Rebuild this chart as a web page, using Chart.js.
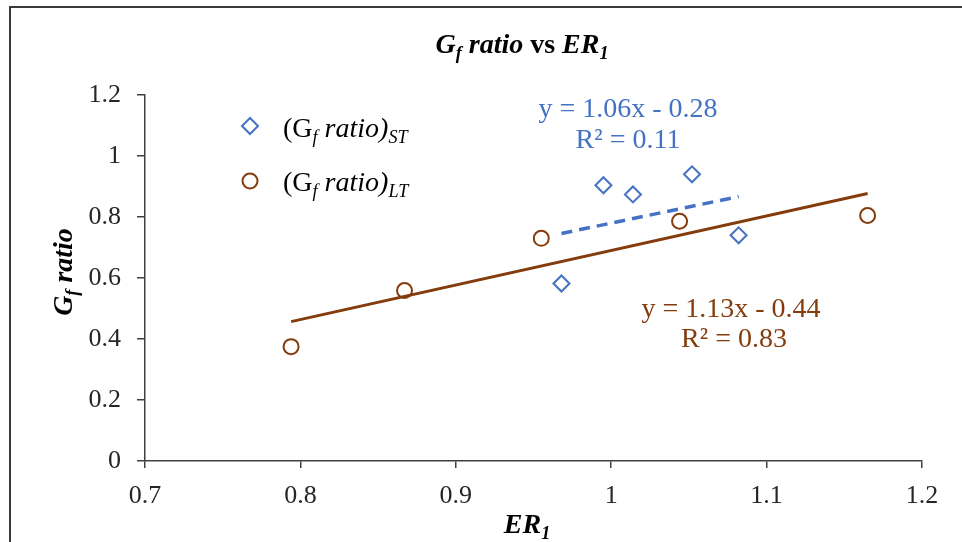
<!DOCTYPE html>
<html>
<head>
<meta charset="utf-8">
<title>Gf ratio vs ER1</title>
<script src="https://cdn.jsdelivr.net/npm/chart.js@4/dist/chart.umd.min.js"></script>
<style>
  html, body { margin: 0; padding: 0; background: #fff; }
  #wrap { width: 962px; height: 542px; position: relative; }
</style>
</head>
<body>
<div id="wrap"><canvas id="chart" width="962" height="542"></canvas></div>
<script>
'use strict';

// ─── Data ────────────────────────────────────────────────────────────────────
const stX = [0.968, 0.995, 1.014, 1.052, 1.082];
const stY = [0.582, 0.904, 0.874, 0.940, 0.740];
const ltX = [0.794, 0.867, 0.955, 1.044, 1.165];
const ltY = [0.375, 0.559, 0.730, 0.786, 0.805];

// trendline end points
const stTrendX = [0.968, 1.082];
const stTrendY = [0.746, 0.867];
const ltTrendX = [0.794, 1.165];
const ltTrendY = [0.457, 0.877];

const xTicks = [0.7, 0.8, 0.9, 1, 1.1, 1.2];
const yTicks = [0, 0.2, 0.4, 0.6, 0.8, 1, 1.2];

const BLUE = '#4472C4';
const BROWN = '#843C0C';
const AXIS = '#404040';
const SERIF = "'Liberation Serif', 'Times New Roman', serif";

const toPoints = (xs, ys) => xs.map((x, i) => ({ x, y: ys[i] }));

// ─── Rich text helper (subscripts) ───────────────────────────────────────────
// parts: [{ t, style, sub }]
function richWidth(ctx, parts, size) {
  let w = 0;
  parts.forEach(p => {
    ctx.font = `${p.style || ''} ${p.sub ? size * 0.65 : size}px ${SERIF}`;
    w += ctx.measureText(p.t).width;
  });
  return w;
}

function drawRich(ctx, parts, x, y, size, align, color) {
  ctx.save();
  ctx.fillStyle = color;
  ctx.textBaseline = 'alphabetic';
  ctx.textAlign = 'left';
  let cx = x;
  if (align === 'center') cx -= richWidth(ctx, parts, size) / 2;
  parts.forEach(p => {
    const s = p.sub ? size * 0.65 : size;
    ctx.font = `${p.style || ''} ${s}px ${SERIF}`;
    ctx.fillText(p.t, cx, p.sub ? y + size * 0.22 : y);
    cx += ctx.measureText(p.t).width;
  });
  ctx.restore();
}

function centerText(ctx, text, x, y, size, color) {
  ctx.save();
  ctx.font = `${size}px ${SERIF}`;
  ctx.fillStyle = color;
  ctx.textAlign = 'center';
  ctx.textBaseline = 'alphabetic';
  ctx.fillText(text, x, y);
  ctx.restore();
}

// ─── Annotations plugin: frame, title, axis titles, legend, equations ────────
const annotations = {
  id: 'annotations',
  afterDraw(chart) {
    const ctx = chart.ctx;

    // outer frame (runs off the right and bottom edges)
    ctx.save();
    ctx.strokeStyle = '#3a3a3a';
    ctx.lineWidth = 2;
    ctx.beginPath();
    ctx.moveTo(10, 560);
    ctx.lineTo(10, 7);
    ctx.lineTo(980, 7);
    ctx.stroke();
    ctx.restore();

    // title
    drawRich(ctx, [
      { t: 'G', style: 'italic bold' },
      { t: 'f', style: 'italic bold', sub: true },
      { t: ' ratio', style: 'italic bold' },
      { t: ' vs ', style: 'bold' },
      { t: 'ER', style: 'italic bold' },
      { t: '1', style: 'italic bold', sub: true },
    ], 522, 53, 28, 'center', '#000');

    // x axis title
    drawRich(ctx, [
      { t: 'ER', style: 'italic bold' },
      { t: '1', style: 'italic bold', sub: true },
    ], 527, 533, 28, 'center', '#000');

    // y axis title
    ctx.save();
    ctx.translate(72, 272);
    ctx.rotate(-Math.PI / 2);
    drawRich(ctx, [
      { t: 'G', style: 'italic bold' },
      { t: 'f', style: 'italic bold', sub: true },
      { t: ' ratio', style: 'italic bold' },
    ], 0, 0, 28, 'center', '#000');
    ctx.restore();

    // legend markers
    ctx.save();
    ctx.lineWidth = 2;
    ctx.strokeStyle = BLUE;
    ctx.beginPath();
    ctx.moveTo(250, 118); ctx.lineTo(258, 126); ctx.lineTo(250, 134); ctx.lineTo(242, 126);
    ctx.closePath();
    ctx.stroke();
    ctx.strokeStyle = BROWN;
    ctx.beginPath();
    ctx.arc(250, 181, 7.5, 0, Math.PI * 2);
    ctx.stroke();
    ctx.restore();

    // legend labels
    drawRich(ctx, [
      { t: '(G' },
      { t: 'f', style: 'italic', sub: true },
      { t: ' ratio)', style: 'italic' },
      { t: 'ST', style: 'italic', sub: true },
    ], 283, 137, 28, 'left', '#000');
    drawRich(ctx, [
      { t: '(G' },
      { t: 'f', style: 'italic', sub: true },
      { t: ' ratio)', style: 'italic' },
      { t: 'LT', style: 'italic', sub: true },
    ], 283, 191, 28, 'left', '#000');

    // trendline equations
    centerText(ctx, 'y = 1.06x - 0.28', 628, 117, 28, BLUE);
    centerText(ctx, 'R² = 0.11', 628, 148, 28, BLUE);
    centerText(ctx, 'y = 1.13x - 0.44', 731, 317, 28, BROWN);
    centerText(ctx, 'R² = 0.83', 734, 347, 28, BROWN);
  },
};

// ─── Chart ───────────────────────────────────────────────────────────────────
const ctx = document.getElementById('chart').getContext('2d');

new Chart(ctx, {
  type: 'scatter',
  data: {
    datasets: [
      {
        label: 'LT trend',
        type: 'line',
        data: toPoints(ltTrendX, ltTrendY),
        borderColor: BROWN,
        borderWidth: 3,
        pointRadius: 0,
        fill: false,
        order: 2,
      },
      {
        label: 'ST trend',
        type: 'line',
        data: toPoints(stTrendX, stTrendY),
        borderColor: BLUE,
        borderWidth: 3.5,
        borderDash: [11, 7],
        pointRadius: 0,
        fill: false,
        order: 2,
      },
      {
        label: '(Gf ratio)ST',
        data: toPoints(stX, stY),
        pointStyle: 'rectRot',
        pointRadius: 8,
        borderColor: BLUE,
        backgroundColor: 'rgba(255,255,255,0)',
        pointBorderWidth: 2,
        order: 1,
      },
      {
        label: '(Gf ratio)LT',
        data: toPoints(ltX, ltY),
        pointStyle: 'circle',
        pointRadius: 7.5,
        borderColor: BROWN,
        backgroundColor: 'rgba(255,255,255,0)',
        pointBorderWidth: 2,
        order: 1,
      },
    ],
  },
  options: {
    responsive: false,
    animation: false,
    devicePixelRatio: 1,
    layout: { padding: { top: 95, right: 40, left: 0, bottom: 0 } },
    plugins: {
      legend: { display: false },
      title: { display: false },
      tooltip: { enabled: false },
    },
    scales: {
      x: {
        type: 'linear',
        min: 0.7,
        max: 1.2,
        afterBuildTicks: s => { s.ticks = xTicks.map(v => ({ value: v })); },
        afterFit: s => { s.height = 81; },
        border: { color: AXIS, width: 1.5 },
        grid: { drawOnChartArea: false, color: AXIS, lineWidth: 1.5, tickLength: 7 },
        ticks: {
          color: '#262626',
          padding: 13,
          maxRotation: 0,
          font: { family: SERIF, size: 26 },
          callback: v => String(Math.round(v * 10) / 10),
        },
      },
      y: {
        type: 'linear',
        min: 0,
        max: 1.2,
        afterBuildTicks: s => { s.ticks = yTicks.map(v => ({ value: v })); },
        afterFit: s => { s.width = 145; },
        border: { color: AXIS, width: 1.5 },
        grid: { drawOnChartArea: false, color: AXIS, lineWidth: 1.5, tickLength: 8 },
        ticks: {
          color: '#262626',
          padding: 16,
          font: { family: SERIF, size: 26 },
          callback: v => String(Math.round(v * 10) / 10),
        },
      },
    },
  },
  plugins: [annotations],
});
</script>
</body>
</html>
